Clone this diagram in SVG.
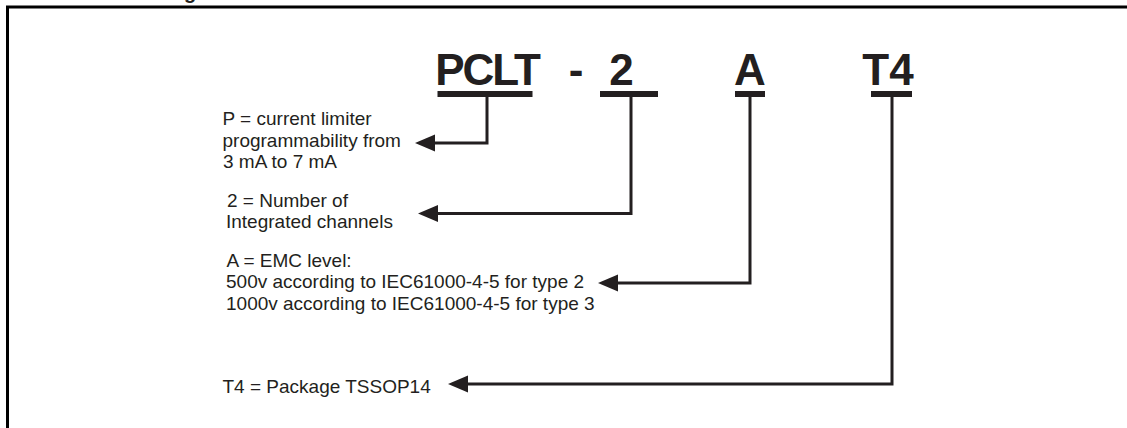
<svg xmlns="http://www.w3.org/2000/svg" width="1127" height="428" viewBox="0 0 1127 428">
<style>
.big{font-family:"Liberation Sans",Arial,sans-serif;font-weight:bold;font-size:44px;fill:#231f20;text-anchor:middle}
.lbl{font-family:"Liberation Sans",Arial,sans-serif;font-size:19px;fill:#231f20}
.bar{fill:#231f20}
.con{fill:none;stroke:#231f20;stroke-width:3;marker-end:url(#ah)}
</style>
<defs>
<marker id="ah" markerUnits="userSpaceOnUse" viewBox="-2 -9 22 18" markerWidth="22" markerHeight="18" refX="0" refY="0" orient="auto">
<path d="M-1,-8.5 L19,0 L-1,8.5 Z" fill="#231f20"/>
</marker>
</defs>
<rect width="1127" height="428" fill="#fff"/>
<text x="184" y="-1.5" style="font-family:'Liberation Sans',Arial,sans-serif;font-weight:bold;font-size:20px;fill:#231f20">g</text>
<path d="M7.5,440 V7 H1140" fill="none" stroke="#000" stroke-width="3"/>
<g id="code-pclt">
<text class="big" x="487" y="84.5" letter-spacing="-2">PCLT</text>
<rect class="bar" x="437.5" y="91" width="95" height="6"/>
</g>
<g id="code-dash">
<text class="big" x="576" y="84.5">-</text>
</g>
<g id="code-2">
<text class="big" x="621.5" y="84.5">2</text>
<rect class="bar" x="600" y="91" width="58" height="6"/>
</g>
<g id="code-a">
<text class="big" x="750" y="84.5">A</text>
<rect class="bar" x="735" y="91" width="30" height="6"/>
</g>
<g id="code-t4">
<text class="big" x="888" y="84.5">T4</text>
<rect class="bar" x="871" y="91" width="41" height="6"/>
</g>
<g id="desc-p">
<text class="lbl" x="222.5" y="125">P = current limiter</text>
<text class="lbl" x="222.5" y="146.5">programmability from</text>
<text class="lbl" x="223" y="168">3 mA to 7 mA</text>
</g>
<g id="desc-2">
<text class="lbl" x="227" y="206.5">2 = Number of</text>
<text class="lbl" x="226" y="228">Integrated channels</text>
</g>
<g id="desc-a">
<text class="lbl" x="226.5" y="266.5">A = EMC level:</text>
<text class="lbl" x="226" y="288">500v according to IEC61000-4-5 for type 2</text>
<text class="lbl" x="226" y="309.5">1000v according to IEC61000-4-5 for type 3</text>
</g>
<g id="desc-t4">
<text class="lbl" x="222.5" y="392.5">T4 = Package TSSOP14</text>
</g>
<g id="connectors">
<path class="con" d="M487,97 V143 H434"/>
<path class="con" d="M631,97 V213.5 H437"/>
<path class="con" d="M750,97 V283 H617"/>
<path class="con" d="M892,97 V384 H467"/>
</g>
</svg>
